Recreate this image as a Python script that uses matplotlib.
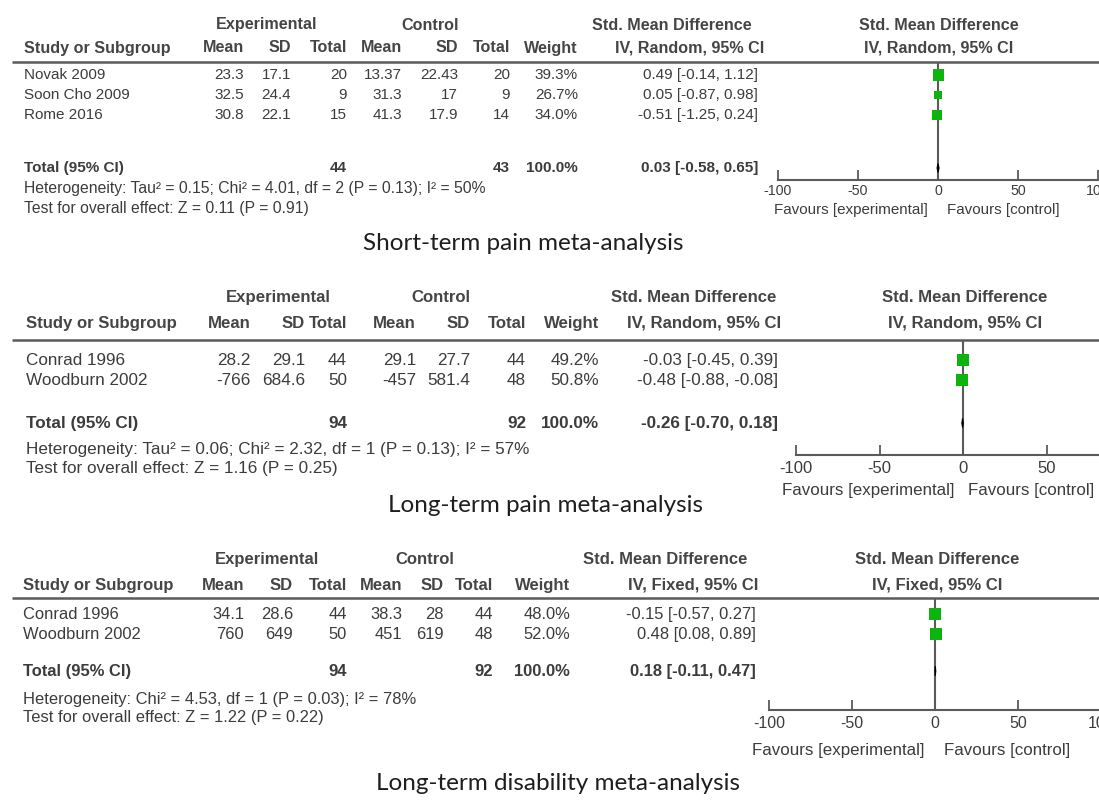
import matplotlib
matplotlib.use("Agg")
import matplotlib.pyplot as plt
from matplotlib.patches import Polygon
from matplotlib import font_manager

# ---------------------------------------------------------------- data
# Short-term pain
studies_a = ["Novak 2009", "Soon Cho 2009", "Rome 2016"]
exp_mean_a = [23.3, 32.5, 30.8]
exp_sd_a = [17.1, 24.4, 22.1]
exp_n_a = [20, 9, 15]
ctl_mean_a = [13.37, 31.3, 41.3]
ctl_sd_a = [22.43, 17, 17.9]
ctl_n_a = [20, 9, 14]
weight_a = [39.3, 26.7, 34.0]
smd_a = [0.49, 0.05, -0.51]
lo_a = [-0.14, -0.87, -1.25]
hi_a = [1.12, 0.98, 0.24]
total_a = [44, 43, 100.0, 0.03, -0.58, 0.65]
het_a = "Heterogeneity: Tau\u00b2 = 0.15; Chi\u00b2 = 4.01, df = 2 (P = 0.13); I\u00b2 = 50%"
test_a = "Test for overall effect: Z = 0.11 (P = 0.91)"
method_a = "IV, Random, 95% CI"
caption_a = "Short-term pain meta-analysis"

# Long-term pain
studies_b = ["Conrad 1996", "Woodburn 2002"]
exp_mean_b = [28.2, -766]
exp_sd_b = [29.1, 684.6]
exp_n_b = [44, 50]
ctl_mean_b = [29.1, -457]
ctl_sd_b = [27.7, 581.4]
ctl_n_b = [44, 48]
weight_b = [49.2, 50.8]
smd_b = [-0.03, -0.48]
lo_b = [-0.45, -0.88]
hi_b = [0.39, -0.08]
total_b = [94, 92, 100.0, -0.26, -0.70, 0.18]
het_b = "Heterogeneity: Tau\u00b2 = 0.06; Chi\u00b2 = 2.32, df = 1 (P = 0.13); I\u00b2 = 57%"
test_b = "Test for overall effect: Z = 1.16 (P = 0.25)"
method_b = "IV, Random, 95% CI"
caption_b = "Long-term pain meta-analysis"

# Long-term disability
studies_c = ["Conrad 1996", "Woodburn 2002"]
exp_mean_c = [34.1, 760]
exp_sd_c = [28.6, 649]
exp_n_c = [44, 50]
ctl_mean_c = [38.3, 451]
ctl_sd_c = [28, 619]
ctl_n_c = [44, 48]
weight_c = [48.0, 52.0]
smd_c = [-0.15, 0.48]
lo_c = [-0.57, 0.08]
hi_c = [0.27, 0.89]
total_c = [94, 92, 100.0, 0.18, -0.11, 0.47]
het_c = "Heterogeneity: Chi\u00b2 = 4.53, df = 1 (P = 0.03); I\u00b2 = 78%"
test_c = "Test for overall effect: Z = 1.22 (P = 0.22)"
method_c = "IV, Fixed, 95% CI"
caption_c = "Long-term disability meta-analysis"

axis_ticks = [-100, -50, 0, 50, 100]

# ---------------------------------------------------------------- style
W, H = 1099, 805
TXT = "#3c3c3c"
HDR = "#454545"
LINE = "#5a5a5a"
GREEN = "#0db40d"

names = {f.name for f in font_manager.fontManager.ttflist}
TABLE_FONT = "Liberation Sans" if "Liberation Sans" in names else "DejaVu Sans"
CAP_FONT = "Lato" if "Lato" in names else "DejaVu Sans"

fig = plt.figure(figsize=(W / 100, H / 100), dpi=100)
fig.patch.set_facecolor("white")
base = fig.add_axes([0, 0, 1, 1])
base.set_xlim(0, W)
base.set_ylim(H, 0)
base.axis("off")


def fmt_num(v):
    return "{:g}".format(v)


def fmt_ci(e, l, h):
    return "{:.2f} [{:.2f}, {:.2f}]".format(e, l, h)


def put(x, y, s, ha="left", size=10, bold=False, color=TXT):
    base.text(x, y, s, ha=ha, va="center", fontsize=size,
              fontweight="bold" if bold else "normal", color=color,
              family=TABLE_FONT)


def draw_panel(rows, lay):
    fs, fh = lay["fs"], lay["fs_hdr"]
    c = lay["cols"]
    # group headings
    put(lay["exp_c"], lay["grp_y"], "Experimental", "center", fh, True, HDR)
    put(lay["ctl_c"], lay["grp_y"], "Control", "center", fh, True, HDR)
    put(lay["smd_c"], lay["grp_y"], "Std. Mean Difference", "center", fh, True, HDR)
    put(lay["plot_c"], lay["grp_y"], "Std. Mean Difference", "center", fh, True, HDR)
    # column headings
    y = lay["hdr_y"]
    put(lay["study_x"], y, "Study or Subgroup", "left", fh, True, HDR)
    for key, lab in [("em", "Mean"), ("es", "SD"), ("en", "Total"),
                     ("cm", "Mean"), ("cs", "SD"), ("cn", "Total"),
                     ("w", "Weight")]:
        put(c[key], y, lab, "right", fh, True, HDR)
    put(lay["meth_c"], y, rows["method"], "center", fh, True, HDR)
    put(lay["plot_c"], y, rows["method"], "center", fh, True, HDR)
    base.plot([lay["line_x0"], W], [lay["line_y"], lay["line_y"]],
              color=LINE, lw=1.8, solid_capstyle="butt")

    # study rows
    for i, ry in enumerate(lay["rows"]):
        put(lay["study_x"], ry, rows["study"][i], "left", fs)
        put(c["em"], ry, fmt_num(rows["em"][i]), "right", fs)
        put(c["es"], ry, fmt_num(rows["es"][i]), "right", fs)
        put(c["en"], ry, fmt_num(rows["en"][i]), "right", fs)
        put(c["cm"], ry, fmt_num(rows["cm"][i]), "right", fs)
        put(c["cs"], ry, fmt_num(rows["cs"][i]), "right", fs)
        put(c["cn"], ry, fmt_num(rows["cn"][i]), "right", fs)
        put(c["w"], ry, "{:.1f}%".format(rows["w"][i]), "right", fs)
        put(c["ci"], ry, fmt_ci(rows["smd"][i], rows["lo"][i], rows["hi"][i]),
            "right", fs)

    # total row
    tn_e, tn_c, tw, te, tl, th = rows["total"]
    ty = lay["total_y"]
    put(lay["study_x"], ty, "Total (95% CI)", "left", fs, True)
    put(c["en"], ty, fmt_num(tn_e), "right", fs, True)
    put(c["cn"], ty, fmt_num(tn_c), "right", fs, True)
    put(c["w"], ty, "{:.1f}%".format(tw), "right", fs, True)
    put(c["ci"], ty, fmt_ci(te, tl, th), "right", fs, True)
    put(lay["study_x"], lay["het_y"], rows["het"], "left", lay["fs_small"])
    put(lay["study_x"], lay["test_y"], rows["test"], "left", lay["fs_small"])

    # caption
    base.text(lay["cap_x"], lay["cap_y"], rows["caption"], ha="center",
              va="center", fontsize=lay["fs_cap"], color="#1e1e1e",
              family=CAP_FONT)

    # forest plot, x from -100 to 100 in data units
    zero, ppu = lay["zero_px"], lay["px_per_unit"]
    left_px = zero - 100 * ppu
    right_px = zero + 100 * ppu
    top, bot = lay["line_y"], lay["axis_y"]
    ax = fig.add_axes([left_px / W, (H - bot) / H,
                       (right_px - left_px) / W, (bot - top) / H])
    ax.set_xlim(-100, 100)
    ax.set_ylim(bot, top)
    ax.patch.set_alpha(0)
    for s in ("top", "left", "right"):
        ax.spines[s].set_visible(False)
    ax.spines["bottom"].set_color(LINE)
    ax.spines["bottom"].set_linewidth(1.5)
    ax.set_yticks([])
    ax.set_xticks(axis_ticks)
    ax.set_xticklabels([str(t) for t in axis_ticks], family=TABLE_FONT,
                       fontsize=lay["fs_tick"], color=TXT)
    ax.tick_params(axis="x", direction="in", length=7, width=1.3,
                   colors=LINE, labelcolor=TXT, pad=lay["tick_pad"])
    ax.axvline(0, color=LINE, lw=1.5, zorder=1)
    ax.hlines(lay["rows"], rows["lo"], rows["hi"], color="black", lw=1, zorder=2)
    sizes = [(w * lay["box_scale"] * 0.72) ** 2 for w in rows["w"]]
    ax.scatter(rows["smd"], lay["rows"], marker="s", s=sizes, color=GREEN,
               edgecolors="none", zorder=3, clip_on=False)
    ax.add_patch(Polygon([(tl, ty), (te, ty - 4.5), (th, ty), (te, ty + 4.5)],
                         closed=True, color="black", lw=0.8, zorder=3))
    put(zero - lay["fav_gap"][0], lay["fav_y"], "Favours [experimental]",
        "right", lay["fs_fav"])
    put(zero + lay["fav_gap"][1], lay["fav_y"], "Favours [control]",
        "left", lay["fs_fav"])


panel_a = dict(study=studies_a, em=exp_mean_a, es=exp_sd_a, en=exp_n_a,
               cm=ctl_mean_a, cs=ctl_sd_a, cn=ctl_n_a, w=weight_a,
               smd=smd_a, lo=lo_a, hi=hi_a, total=total_a, het=het_a,
               test=test_a, method=method_a, caption=caption_a)
panel_b = dict(study=studies_b, em=exp_mean_b, es=exp_sd_b, en=exp_n_b,
               cm=ctl_mean_b, cs=ctl_sd_b, cn=ctl_n_b, w=weight_b,
               smd=smd_b, lo=lo_b, hi=hi_b, total=total_b, het=het_b,
               test=test_b, method=method_b, caption=caption_b)
panel_c = dict(study=studies_c, em=exp_mean_c, es=exp_sd_c, en=exp_n_c,
               cm=ctl_mean_c, cs=ctl_sd_c, cn=ctl_n_c, w=weight_c,
               smd=smd_c, lo=lo_c, hi=hi_c, total=total_c, het=het_c,
               test=test_c, method=method_c, caption=caption_c)

layout_a = dict(fs=11, fs_hdr=11.6, fs_small=11.3, fs_tick=10.2, fs_fav=10.9,
                fs_cap=17.5, tick_pad=3,
                study_x=24, line_x0=12,
                cols=dict(em=244, es=291, en=347, cm=402, cs=458, cn=510,
                          w=578, ci=758),
                exp_c=267, ctl_c=430, smd_c=672, meth_c=690, plot_c=939,
                grp_y=25, hdr_y=48, line_y=62, rows=[75, 95, 115],
                total_y=168, het_y=189, test_y=208,
                cap_x=523, cap_y=243,
                zero_px=938, px_per_unit=1.6, axis_y=180, fav_y=210,
                fav_gap=(10, 9), box_scale=0.28)
layout_b = dict(fs=12.3, fs_hdr=12.1, fs_small=12.3, fs_tick=12, fs_fav=12.2,
                fs_cap=17.5, tick_pad=4,
                study_x=26, line_x0=12,
                cols=dict(em=251, es=305, en=347, cm=416, cs=470, cn=526,
                          w=599, ci=778),
                exp_c=278, ctl_c=441, smd_c=694, meth_c=704, plot_c=965,
                grp_y=297, hdr_y=323, line_y=340, rows=[360, 380],
                total_y=423, het_y=449, test_y=468,
                cap_x=545, cap_y=505,
                zero_px=963, px_per_unit=1.67, axis_y=455, fav_y=490,
                fav_gap=(9, 5), box_scale=0.235)
layout_c = dict(fs=11.9, fs_hdr=12, fs_small=11.9, fs_tick=11.5, fs_fav=12.2,
                fs_cap=17.5, tick_pad=4,
                study_x=23, line_x0=12,
                cols=dict(em=244, es=293, en=347, cm=402, cs=444, cn=493,
                          w=570, ci=756),
                exp_c=267, ctl_c=425, smd_c=665, meth_c=693, plot_c=937,
                grp_y=559, hdr_y=585, line_y=598, rows=[614, 634],
                total_y=671, het_y=699, test_y=717,
                cap_x=558, cap_y=783,
                zero_px=935, px_per_unit=1.66, axis_y=710, fav_y=750,
                fav_gap=(10, 9), box_scale=0.24)

draw_panel(panel_a, layout_a)
draw_panel(panel_b, layout_b)
draw_panel(panel_c, layout_c)

fig.savefig("out.png", dpi=100, facecolor="white")
